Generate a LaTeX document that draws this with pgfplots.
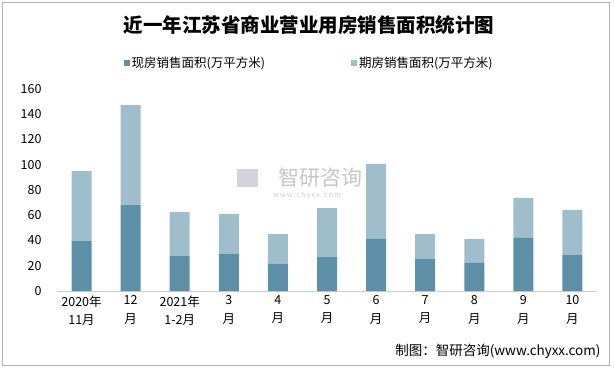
\documentclass[border=0pt]{standalone}
\usepackage{pgfplots}
\pgfplotsset{compat=1.18}
\usepackage{fontspec}
\setmainfont{Noto Sans CJK SC}
\definecolor{darkbar}{RGB}{93,144,166}
\definecolor{lightbar}{RGB}{159,189,202}
\begin{document}
\begin{tikzpicture}
\path[use as bounding box] (0pt,0pt) rectangle (615pt,367pt);
\draw[gray!60, line width=0.6pt] (2pt,2pt) rectangle (609pt,365pt);
% title
\node[font=\fontsize{19.5}{22}\selectfont\bfseries] at (309pt,342pt) {近一年江苏省商业营业用房销售面积统计图};
% watermark
\node[text=gray!45, font=\fontsize{21}{23}\selectfont] at (320pt,189pt) {智研咨询};
\node[text=gray!40, font=\fontsize{7}{8}\selectfont] at (307pt,171pt) {w\,w\,w\,.\,c\,h\,y\,x\,x\,.\,c\,o\,m};
\fill[blue!15!gray!30] (237pt,180pt) rectangle (258pt,198pt);
% source
\node[anchor=east, font=\fontsize{13.5}{15}\selectfont] at (604pt,16pt) {制图：智研咨询(www.chyxx.com)};
\begin{axis}[
  at={(57pt,76pt)}, anchor=south west,
  scale only axis, width=540pt, height=202pt,
  ybar stacked, bar width=20pt,
  ymin=0, ymax=160, ytick={0,20,...,160},
  xmin=-0.5, xmax=10.5,
  xtick={0,...,10},
  xticklabels={2020年\\11月,12\\月,2021年\\1-2月,3\\月,4\\月,5\\月,6\\月,7\\月,8\\月,9\\月,10\\月},
  xticklabel style={align=center, font=\fontsize{12.5}{18.5}\selectfont, yshift=-1pt},
  yticklabel style={font=\fontsize{12.5}{14}\selectfont, xshift=-12pt},
  /pgf/number format/assume math mode=true,
  axis x line*=bottom,
  axis y line*=left,
  x axis line style={draw=gray!40, line width=0.8pt, -},
  y axis line style={draw=none},
  major tick length=0pt,
  tick style={draw=none},
  legend style={at={(0.467,1.129)}, anchor=center, draw=none, fill=none,
    legend columns=2, font=\fontsize{12.5}{14}\selectfont,
    /tikz/every even column/.append style={column sep=84pt}},
  legend image code/.code={\fill[#1] (0pt,-3pt) rectangle (6pt,3pt);},
  clip=false,
]
\addplot[fill=darkbar, draw=none] coordinates {
(0,40) (1,68) (2,27.7) (3,29.3) (4,21.4) (5,26.9) (6,41.2) (7,25.3) (8,22.2) (9,42) (10,28.5)};
\addplot[fill=lightbar, draw=none] coordinates {
(0,55) (1,79.3) (2,34.9) (3,31.7) (4,23.7) (5,38.8) (6,59.4) (7,19.8) (8,19.0) (9,31.7) (10,35.7)};
\legend{现房销售面积(万平方米),期房销售面积(万平方米)}
\end{axis}
\end{tikzpicture}
\end{document}
